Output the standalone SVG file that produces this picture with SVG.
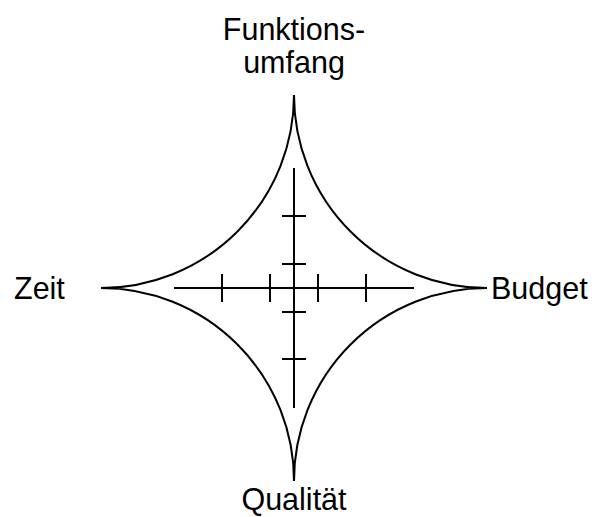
<svg xmlns="http://www.w3.org/2000/svg" width="599" height="517" viewBox="0 0 599 517">
<style>
.ln{fill:none;stroke:#000;stroke-width:2}
.lbl{font-family:"Liberation Sans",Arial,sans-serif;font-size:30.5px;fill:#000}
</style>
<rect width="599" height="517" fill="#fff"/>
<g id="star">
<path class="ln" d="M294,95 A193,193 0 0,0 487,288 A193,193 0 0,0 294,481 A193,193 0 0,0 101,288 A193,193 0 0,0 294,95 Z"/>
</g>
<g id="axes">
<line class="ln" x1="294" y1="168" x2="294" y2="408"/>
<line class="ln" x1="174" y1="288" x2="414" y2="288"/>
<line class="ln" x1="282" y1="216" x2="306" y2="216"/>
<line class="ln" x1="282" y1="264" x2="306" y2="264"/>
<line class="ln" x1="282" y1="312" x2="306" y2="312"/>
<line class="ln" x1="282" y1="359" x2="306" y2="359"/>
<line class="ln" x1="222" y1="274" x2="222" y2="302"/>
<line class="ln" x1="270" y1="274" x2="270" y2="302"/>
<line class="ln" x1="318" y1="274" x2="318" y2="302"/>
<line class="ln" x1="366" y1="274" x2="366" y2="302"/>
</g>
<g id="label-top">
<text class="lbl" x="294" y="40" text-anchor="middle">Funktions-</text>
<text class="lbl" x="294" y="73" text-anchor="middle">umfang</text>
</g>
<g id="label-left"><text class="lbl" x="14" y="299">Zeit</text></g>
<g id="label-right"><text class="lbl" x="491" y="299">Budget</text></g>
<g id="label-bottom"><text class="lbl" x="294" y="510" text-anchor="middle">Qualität</text></g>
</svg>
